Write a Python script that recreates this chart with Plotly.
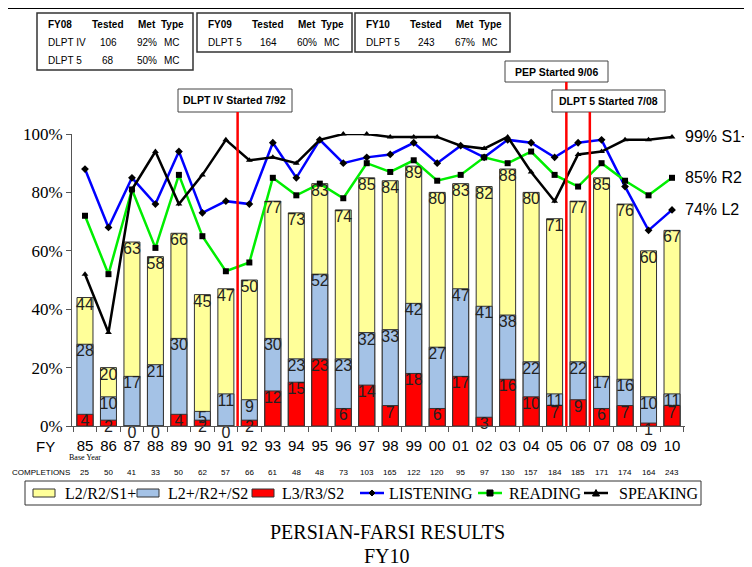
import plotly.graph_objects as go

# fiscal years and results (percent of students)
years = ["85", "86", "87", "88", "89", "90", "91", "92", "93", "94", "95", "96", "97",
         "98", "99", "00", "01", "02", "03", "04", "05", "06", "07", "08", "09", "10"]
l2_r2_s1 = [44, 20, 63, 58, 66, 45, 47, 50, 77, 73, 83, 74, 85, 84, 89, 80, 83, 82, 88, 80, 71, 77, 85, 76, 60, 67]
l2p_r2p_s2 = [28, 10, 17, 21, 30, 5, 11, 9, 30, 23, 52, 23, 32, 33, 42, 27, 47, 41, 38, 22, 11, 22, 17, 16, 10, 11]
l3_r3_s2 = [4, 2, 0, 0, 4, 2, 0, 2, 12, 15, 23, 6, 14, 7, 18, 6, 17, 3, 16, 10, 7, 9, 6, 7, 1, 7]
listening = [88, 68, 85, 76, 94, 73, 77, 76, 97, 85, 98, 90, 92, 93, 97, 90, 96, 92, 98, 97, 92, 97, 98, 82, 67, 74]
reading = [72, 52, 81, 61, 86, 65, 53, 56, 85, 79, 83, 78, 90, 87, 91, 84, 86, 92, 90, 94, 86, 82, 90, 84, 79, 85]
speaking = [52, 32, 81, 94, 76, 86, 98, 91, 92, 90, 98, 100, 100, 99, 99, 99, 96, 95, 99, 87, 77, 93, 94, 98, 98, 99]
completions = [25, 50, 41, 33, 50, 62, 57, 66, 61, 48, 48, 73, 103, 165, 122, 120, 95, 97, 130, 157, 184, 185, 171, 174, 164, 243]

end_labels = ["99% S1+", "85% R2", "74% L2"]

# top summary tables
tables = [
    [["FY08", "Tested", "Met", "Type"], ["DLPT IV", "106", "92%", "MC"], ["DLPT 5", "68", "50%", "MC"]],
    [["FY09", "Tested", "Met", "Type"], ["DLPT 5", "164", "60%", "MC"]],
    [["FY10", "Tested", "Met", "Type"], ["DLPT 5", "243", "67%", "MC"]],
]

# events: (text, position between years)
events = [("DLPT IV Started 7/92", 6.5), ("PEP Started 9/06", 20.5), ("DLPT 5 Started 7/08", 21.5)]

# page body has an 8px margin, figure is sized so that it ends at the window edge
OFF = 8
W, H = 752, 567
# plot area in window pixels
PL, PR, PT, PB = 72, 685, 134, 426


def px(x):
    return (x - PL) / (PR - PL)


def py(y):
    return (PB - y) / (PB - PT)


xs = list(range(len(years)))
SANS = "Liberation Sans, Arial"
SERIF = "Liberation Serif, Times New Roman"

fig = go.Figure()

bar_style = dict(width=0.68, marker_line=dict(color="#333333", width=1), showlegend=False)
fig.add_trace(go.Bar(x=xs, y=l2_r2_s1, name="L2/R2/S1+", marker_color="#FFFF99", **bar_style))
fig.add_trace(go.Bar(x=xs, y=l2p_r2p_s2, name="L2+/R2+/S2", marker_color="#A4C2E6", **bar_style))
fig.add_trace(go.Bar(x=xs, y=l3_r3_s2, name="L3/R3/S2", marker_color="#FF0000", **bar_style))

line_specs = [("LISTENING", listening, "#0000FF", "diamond"),
              ("READING", reading, "#00EE00", "square"),
              ("SPEAKING", speaking, "black", "triangle-up")]
for name, vals, col, sym in line_specs:
    fig.add_trace(go.Scatter(x=xs, y=vals, name=name, mode="lines+markers",
                             line=dict(color=col, width=2.5), showlegend=False,
                             marker=dict(symbol=sym, size=6, color="black"), cliponaxis=False))

# bar value labels
for vals in (l2_r2_s1, l2p_r2p_s2, l3_r3_s2):
    fig.add_trace(go.Scatter(x=xs, y=vals, mode="text", text=[str(v) for v in vals],
                             textposition="bottom center",
                             textfont=dict(family=SANS, size=16, color="#222222"),
                             showlegend=False, hoverinfo="skip", cliponaxis=False))

annotations = []
shapes = []


def text(x, y, t, size, family=SANS, anchor="center", xref="paper"):
    annotations.append(dict(x=x, y=y, xref=xref, yref="paper", text=t, showarrow=False,
                            xanchor=anchor, yanchor="middle", font=dict(family=family, size=size, color="black")))


# line end labels
for lab, v in zip(end_labels, [speaking[-1], reading[-1], listening[-1]]):
    annotations.append(dict(x=px(683), y=v, xref="paper", yref="y", text=lab, showarrow=False,
                            xanchor="left", yanchor="middle", font=dict(family=SANS, size=16, color="black")))

# completions row
text(px(10), py(472), "COMPLETIONS", 8, anchor="left")
for x, c in zip(xs, completions):
    text(x, py(472), str(c), 8, xref="x")
text(px(45), py(446), "FY", 15)
text(0, py(457), "Base Year", 8, family=SERIF, xref="x")

# title
text(px(387), py(532), "PERSIAN-FARSI RESULTS", 20, family=SERIF)
text(px(387), py(556), "FY10", 20, family=SERIF)

# event boxes and red lines
event_boxes = [(178, 292, 89, 112), (505, 608, 61, 82), (552, 665, 90, 112)]
for (t, pos), (x0, x1, y0, y1) in zip(events, event_boxes):
    shapes.append(dict(type="rect", xref="paper", yref="paper", x0=px(x0), x1=px(x1), y0=py(y0), y1=py(y1),
                       line=dict(color="#444444", width=1), fillcolor="white"))
    text(px((x0 + x1) / 2), py((y0 + y1) / 2), "<b>" + t + "</b>", 10.5)
    shapes.append(dict(type="line", xref="x", yref="paper", x0=pos, x1=pos, y0=0, y1=py(y1),
                       line=dict(color="#FF0000", width=2.5)))

# summary tables
table_boxes = [(37, 193, 13, 70), (197, 352, 13, 52), (355, 510, 13, 52)]
col_offsets = [(9, "left"), (71, "center"), (110, "center"), (135, "center")]
row_y = [24, 42, 60]
for tbl, (x0, x1, y0, y1) in zip(tables, table_boxes):
    shapes.append(dict(type="rect", xref="paper", yref="paper", x0=px(x0), x1=px(x1), y0=py(y0), y1=py(y1),
                       line=dict(color="#333333", width=1.5)))
    for r, row in enumerate(tbl):
        for (off, anchor), cell in zip(col_offsets, row):
            text(px(x0 + off), py(row_y[r]), ("<b>%s</b>" % cell) if r == 0 else cell, 10, anchor=anchor)

# legend (drawn by hand to keep it on one row)
shapes.append(dict(type="rect", xref="paper", yref="paper", x0=px(25), x1=px(701), y0=py(481), y1=py(505),
                   line=dict(color="#333333", width=1)))
LY = 493
swatches = [("L2/R2/S1+", "#FFFF99", 33, 63), ("L2+/R2+/S2", "#A4C2E6", 137, 166), ("L3/R3/S2", "#FF0000", 252, 280)]
for name, col, sx, tx in swatches:
    shapes.append(dict(type="rect", xref="paper", yref="paper", x0=px(sx), x1=px(sx + 22),
                       y0=py(LY + 4), y1=py(LY - 4), line=dict(color="#333333", width=1), fillcolor=col))
    text(px(tx), py(LY), name, 16, family=SERIF, anchor="left")
leg_lines = [(360, 387), (478, 507), (584, 617)]
for (name, _, col, sym), (lx, tx) in zip(line_specs, leg_lines):
    shapes.append(dict(type="line", xref="paper", yref="paper", x0=px(lx), x1=px(lx + 24),
                       y0=py(LY), y1=py(LY), line=dict(color=col, width=2.5)))
    cx = lx + 12
    if sym == "diamond":
        path = "M %f,%f L %f,%f L %f,%f L %f,%f Z" % (px(cx - 3), py(LY), px(cx), py(LY - 3),
                                                     px(cx + 3), py(LY), px(cx), py(LY + 3))
    elif sym == "square":
        path = "M %f,%f L %f,%f L %f,%f L %f,%f Z" % (px(cx - 3), py(LY - 3), px(cx + 3), py(LY - 3),
                                                     px(cx + 3), py(LY + 3), px(cx - 3), py(LY + 3))
    else:
        path = "M %f,%f L %f,%f L %f,%f Z" % (px(cx - 3.5), py(LY + 3), px(cx), py(LY - 3.5),
                                             px(cx + 3.5), py(LY + 3))
    shapes.append(dict(type="path", xref="paper", yref="paper", path=path,
                       line=dict(color="black", width=1), fillcolor="black"))
    text(px(tx), py(LY), name, 16, family=SERIF, anchor="left")

# outer frame
shapes.append(dict(type="line", xref="paper", yref="paper", x0=px(7), x1=px(752), y0=py(8), y1=py(8),
                   line=dict(color="black", width=2)))
shapes.append(dict(type="line", xref="paper", yref="paper", x0=px(7), x1=px(7), y0=py(8), y1=py(567),
                   line=dict(color="black", width=2)))

fig.update_layout(
    width=W - OFF, height=H - OFF,
    margin=dict(l=PL - OFF, r=W - PR, t=PT - OFF, b=H - PB, autoexpand=False),
    paper_bgcolor="white", plot_bgcolor="white",
    barmode="overlay",
    showlegend=False,
    xaxis=dict(range=[-0.553, 25.553], tickmode="array", tickvals=xs, ticktext=years,
               showline=True, linecolor="#555555", ticks="", showgrid=False, zeroline=False,
               ticklabelstandoff=6,
               tickfont=dict(family=SANS, size=15, color="black"),
               minor=dict(tickmode="array", tickvals=[x + 0.5 for x in xs[:-1]] + [-0.5, 25.5],
                          ticks="outside", ticklen=5, tickcolor="#555555")),
    yaxis=dict(range=[0, 100], tickmode="array", tickvals=[0, 20, 40, 60, 80, 100],
               ticktext=["0%", "20%", "40%", "60%", "80%", "100%"],
               showline=True, linecolor="#555555", ticks="outside", ticklen=5, tickcolor="#555555",
               showgrid=False, zeroline=False, tickfont=dict(family=SERIF, size=17, color="black")),
    annotations=annotations, shapes=shapes,
)

fig.write_html("out.html")
